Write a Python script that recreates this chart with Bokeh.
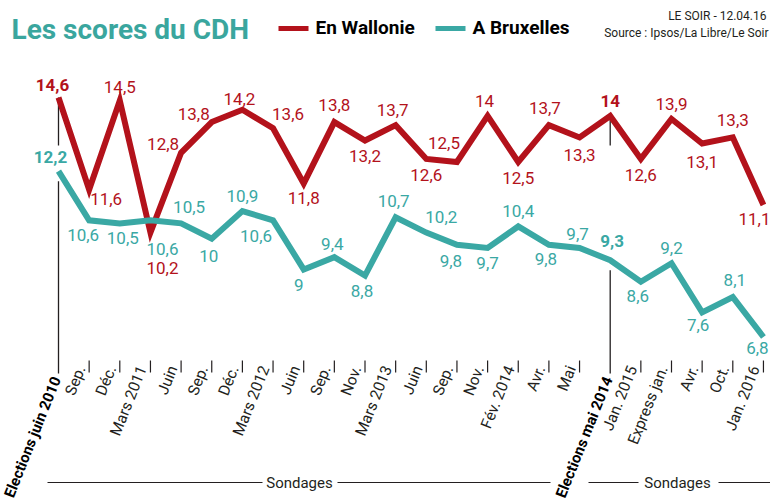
from bokeh.plotting import figure
from bokeh.models import Range1d, ColumnDataSource, Label
from bokeh.core.properties import value
from bokeh.embed import file_html
from bokeh.resources import INLINE

# ---------------- data ----------------
categories = ["Elections juin 2010", "Sep.", "Déc.", "Mars 2011", "Juin", "Sep.", "Déc.",
              "Mars 2012", "Juin", "Sep.", "Nov.", "Mars 2013", "Juin", "Sep.", "Nov.",
              "Fév. 2014", "Avr.", "Mai", "Elections mai 2014", "Jan. 2015", "Express jan.",
              "Avr.", "Oct.", "Jan. 2016"]
wallonie = [14.6, 11.6, 14.5, 10.2, 12.8, 13.8, 14.2, 13.6, 11.8, 13.8, 13.2, 13.7,
            12.6, 12.5, 14.0, 12.5, 13.7, 13.3, 14.0, 12.6, 13.9, 13.1, 13.3, 11.1]
bruxelles = [12.2, 10.6, 10.5, 10.6, 10.5, 10.0, 10.9, 10.6, 9.0, 9.4, 8.8, 10.7,
             10.2, 9.8, 9.7, 10.4, 9.8, 9.7, 9.3, 8.6, 9.2, 7.6, 8.1, 6.8]
election_idx = [0, 18]
series_names = ["En Wallonie", "A Bruxelles"]

# ---------------- style ----------------
RED = "#b3121b"
TEAL = "#3aa8a4"
TITLE_TEAL = "#3aa69e"
INK = "#231f20"
FONT = "Roboto"

# label offsets (screen px, y down)
wal_off = [(-6, -13), (17, 9), (0, -14), (12, 35), (-18, -9), (-18, -8), (-3, -11), (15, -14),
           (0, 15), (0, -17), (0, 16), (-3, -15), (0, 16), (-13, -19), (-3, -15), (0, 16),
           (-4, -17), (0, 18), (0, -15), (0, 16), (0, -15), (0, 18), (0, -17), (-9, 14)]
bxl_off = [(-8, -14), (-6, 15), (3, 15), (12, 29), (8, -16), (-3, 17), (0, -15), (-17, 16),
           (-5, 16), (-2, -13), (-3, 15), (-2, -16), (15, -16), (-6, 16), (0, 15), (0, -15),
           (-3, 14), (-2, -14), (2, -19), (-3, 14), (0, -15), (-4, 13), (2, -17), (-6, 11)]

W, H = 770, 503
X0, DX = 58.0, 30.65          # pixel of first category, pixel step
YREF_V, YREF_PX, DY = 14.6, 97.0, 30.7   # value <-> pixel scale


def px_x(px):
    return (px - X0) / DX


def px_y(py):
    return YREF_V - (py - YREF_PX) / DY


p = figure(width=W, height=H, output_backend="svg", toolbar_location=None,
           x_range=Range1d(px_x(0), px_x(W)), y_range=Range1d(px_y(H), px_y(0)),
           min_border=0, x_axis_location=None, y_axis_location=None,
           outline_line_color=None, background_fill_color="white",
           border_fill_color="white")
p.xgrid.visible = False
p.ygrid.visible = False

n = len(categories)
xs = list(range(n))

# election vertical lines
p.segment(x0=election_idx, x1=election_idx,
          y0=[wallonie[i] for i in election_idx], y1=[px_y(145)] * len(election_idx),
          line_color=INK, line_width=1.3)
p.segment(x0=election_idx, x1=election_idx,
          y0=[bruxelles[i] - 10 / DY for i in election_idx], y1=[px_y(373)] * len(election_idx),
          line_color=INK, line_width=1.3)

# ticks for polls
poll_idx = [i for i in xs if i not in election_idx]
p.segment(x0=poll_idx, x1=poll_idx, y0=[px_y(360)] * len(poll_idx), y1=[px_y(372)] * len(poll_idx),
          line_color=INK, line_width=1.2)

# series lines
p.line(xs, wallonie, line_color=RED, line_width=6, line_join="miter")
p.line(xs, bruxelles, line_color=TEAL, line_width=6, line_join="miter")


def fmt(v):
    return f"{v:g}".replace(".", ",")


for vals, offs, col in ((wallonie, wal_off, RED), (bruxelles, bxl_off, TEAL)):
    src = ColumnDataSource(dict(
        x=xs, y=vals, t=[fmt(v) for v in vals],
        dx=[o[0] for o in offs], dy=[o[1] for o in offs],
        fs=["bold" if i in election_idx else "normal" for i in xs]))
    p.text(x="x", y="y", text="t", source=src, x_offset="dx", y_offset="dy",
           text_font=value(FONT), text_font_size="17px", text_font_style="fs",
           text_color=col, text_align="center", text_baseline="middle")

# category labels
ANG = 1.19
src_c = ColumnDataSource(dict(x=poll_idx, y=[px_y(366)] * len(poll_idx),
                              t=[categories[i] for i in poll_idx]))
p.text(x="x", y="y", text="t", source=src_c, x_offset=-8, y_offset=0, angle=ANG,
       text_font=value(FONT), text_font_size="15.5px", text_color=INK,
       text_align="right", text_baseline="middle")
src_e = ColumnDataSource(dict(x=election_idx, y=[px_y(377)] * len(election_idx),
                              t=[categories[i] for i in election_idx]))
p.text(x="x", y="y", text="t", source=src_e, x_offset=-2, y_offset=0, angle=ANG,
       text_font=value(FONT), text_font_size="15px", text_font_style="bold",
       text_color="black", text_align="right", text_baseline="middle")

# "Sondages" brackets
for a, b in ((47, 262), (337, 550), (588, 638), (718, 770)):
    p.line([px_x(a), px_x(b)], [px_y(482)] * 2, line_color=INK, line_width=1)
for cx in (299, 677):
    p.add_layout(Label(x=cx, y=H - 482, x_units="screen", y_units="screen", text="Sondages",
                       text_font=FONT, text_font_size="15px", text_color=INK,
                       text_align="center", text_baseline="middle"))

# title & legend
p.add_layout(Label(x=11, y=H - 29, x_units="screen", y_units="screen", text="Les scores du CDH",
                   text_font=FONT, text_font_size="28px", text_font_style="bold",
                   text_color=TITLE_TEAL, text_align="left", text_baseline="middle"))
for (sx0, sx1, tx), name, col in zip(((278, 308, 315), (435, 465, 472)), series_names, (RED, TEAL)):
    p.line([px_x(sx0), px_x(sx1)], [px_y(28)] * 2, line_color=col, line_width=5)
    p.add_layout(Label(x=tx, y=H - 27, x_units="screen", y_units="screen", text=name,
                       text_font=FONT, text_font_size="19px", text_font_style="bold",
                       text_color="black", text_align="left", text_baseline="middle"))
p.add_layout(Label(x=766, y=H - 15, x_units="screen", y_units="screen", text="LE SOIR - 12.04.16",
                   text_font=FONT, text_font_size="12px", text_color=INK,
                   text_align="right", text_baseline="middle"))
p.add_layout(Label(x=768, y=H - 32, x_units="screen", y_units="screen",
                   text="Source : Ipsos/La Libre/Le Soir",
                   text_font=FONT, text_font_size="12px", text_color=INK,
                   text_align="right", text_baseline="middle"))

open("out.html", "w").write(file_html(p, INLINE))
